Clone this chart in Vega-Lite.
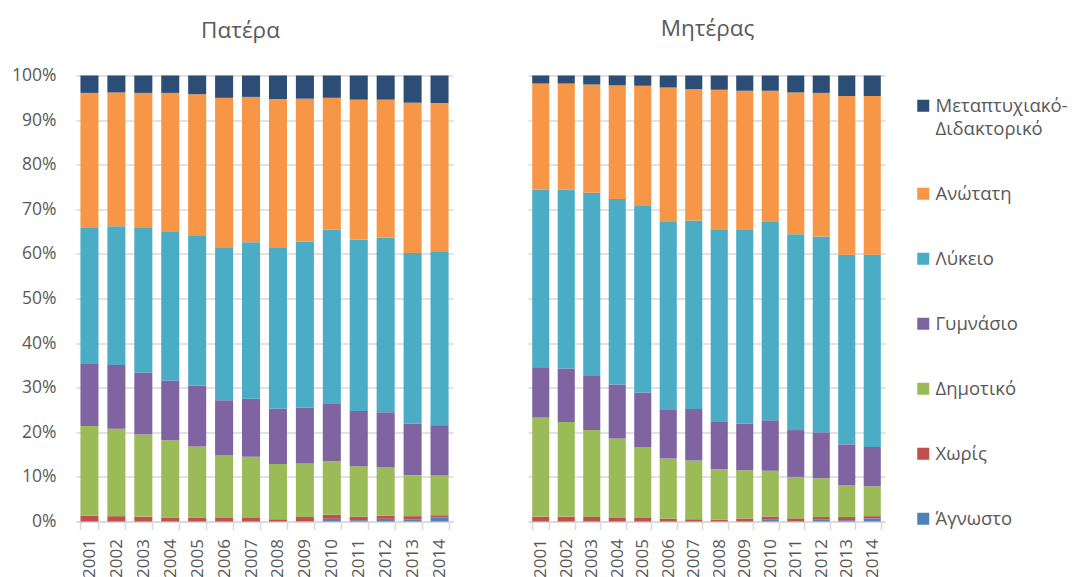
{
  "$schema": "https://vega.github.io/schema/vega-lite/v6.json",
  "padding": {"left": 11, "top": 17.5, "right": 5, "bottom": 0},
  "background": "white",
  "config": {
    "font": "Open Sans",
    "view": {"stroke": null},
    "axis": {"labelColor": "#595959", "labelFont": "Open Sans", "titleColor": "#595959"},
    "title": {"font": "Open Sans", "fontSize": 22.5, "fontWeight": "normal", "color": "#595959"}
  },
  "datasets": {
    "edu": [
      {"parent":"Πατέρα","year":"2001","level":"Χωρίς","value":1.3},{"parent":"Πατέρα","year":"2001","level":"Δημοτικό","value":20.1},{"parent":"Πατέρα","year":"2001","level":"Γυμνάσιο","value":13.9},{"parent":"Πατέρα","year":"2001","level":"Λύκειο","value":30.5},{"parent":"Πατέρα","year":"2001","level":"Ανώτατη","value":30.3},{"parent":"Πατέρα","year":"2001","level":"Μεταπτυχιακό-Διδακτορικό","value":3.9},
      {"parent":"Πατέρα","year":"2002","level":"Χωρίς","value":1.2},{"parent":"Πατέρα","year":"2002","level":"Δημοτικό","value":19.6},{"parent":"Πατέρα","year":"2002","level":"Γυμνάσιο","value":14.3},{"parent":"Πατέρα","year":"2002","level":"Λύκειο","value":31.1},{"parent":"Πατέρα","year":"2002","level":"Ανώτατη","value":30.0},{"parent":"Πατέρα","year":"2002","level":"Μεταπτυχιακό-Διδακτορικό","value":3.8},
      {"parent":"Πατέρα","year":"2003","level":"Χωρίς","value":1.1},{"parent":"Πατέρα","year":"2003","level":"Δημοτικό","value":18.4},{"parent":"Πατέρα","year":"2003","level":"Γυμνάσιο","value":13.9},{"parent":"Πατέρα","year":"2003","level":"Λύκειο","value":32.4},{"parent":"Πατέρα","year":"2003","level":"Ανώτατη","value":30.3},{"parent":"Πατέρα","year":"2003","level":"Μεταπτυχιακό-Διδακτορικό","value":3.9},
      {"parent":"Πατέρα","year":"2004","level":"Χωρίς","value":0.9},{"parent":"Πατέρα","year":"2004","level":"Δημοτικό","value":17.3},{"parent":"Πατέρα","year":"2004","level":"Γυμνάσιο","value":13.4},{"parent":"Πατέρα","year":"2004","level":"Λύκειο","value":33.5},{"parent":"Πατέρα","year":"2004","level":"Ανώτατη","value":31.0},{"parent":"Πατέρα","year":"2004","level":"Μεταπτυχιακό-Διδακτορικό","value":3.9},
      {"parent":"Πατέρα","year":"2005","level":"Χωρίς","value":0.9},{"parent":"Πατέρα","year":"2005","level":"Δημοτικό","value":15.9},{"parent":"Πατέρα","year":"2005","level":"Γυμνάσιο","value":13.7},{"parent":"Πατέρα","year":"2005","level":"Λύκειο","value":33.5},{"parent":"Πατέρα","year":"2005","level":"Ανώτατη","value":31.8},{"parent":"Πατέρα","year":"2005","level":"Μεταπτυχιακό-Διδακτορικό","value":4.2},
      {"parent":"Πατέρα","year":"2006","level":"Χωρίς","value":0.8},{"parent":"Πατέρα","year":"2006","level":"Δημοτικό","value":14.1},{"parent":"Πατέρα","year":"2006","level":"Γυμνάσιο","value":12.3},{"parent":"Πατέρα","year":"2006","level":"Λύκειο","value":34.1},{"parent":"Πατέρα","year":"2006","level":"Ανώτατη","value":33.7},{"parent":"Πατέρα","year":"2006","level":"Μεταπτυχιακό-Διδακτορικό","value":5.0},
      {"parent":"Πατέρα","year":"2007","level":"Χωρίς","value":0.8},{"parent":"Πατέρα","year":"2007","level":"Δημοτικό","value":13.7},{"parent":"Πατέρα","year":"2007","level":"Γυμνάσιο","value":13.0},{"parent":"Πατέρα","year":"2007","level":"Λύκειο","value":35.1},{"parent":"Πατέρα","year":"2007","level":"Ανώτατη","value":32.6},{"parent":"Πατέρα","year":"2007","level":"Μεταπτυχιακό-Διδακτορικό","value":4.8},
      {"parent":"Πατέρα","year":"2008","level":"Χωρίς","value":0.5},{"parent":"Πατέρα","year":"2008","level":"Δημοτικό","value":12.4},{"parent":"Πατέρα","year":"2008","level":"Γυμνάσιο","value":12.4},{"parent":"Πατέρα","year":"2008","level":"Λύκειο","value":36.0},{"parent":"Πατέρα","year":"2008","level":"Ανώτατη","value":33.4},{"parent":"Πατέρα","year":"2008","level":"Μεταπτυχιακό-Διδακτορικό","value":5.3},
      {"parent":"Πατέρα","year":"2009","level":"Άγνωστο","value":0.1},{"parent":"Πατέρα","year":"2009","level":"Χωρίς","value":0.9},{"parent":"Πατέρα","year":"2009","level":"Δημοτικό","value":12.0},{"parent":"Πατέρα","year":"2009","level":"Γυμνάσιο","value":12.5},{"parent":"Πατέρα","year":"2009","level":"Λύκειο","value":37.3},{"parent":"Πατέρα","year":"2009","level":"Ανώτατη","value":32.0},{"parent":"Πατέρα","year":"2009","level":"Μεταπτυχιακό-Διδακτορικό","value":5.2},
      {"parent":"Πατέρα","year":"2010","level":"Άγνωστο","value":0.6},{"parent":"Πατέρα","year":"2010","level":"Χωρίς","value":0.9},{"parent":"Πατέρα","year":"2010","level":"Δημοτικό","value":12.0},{"parent":"Πατέρα","year":"2010","level":"Γυμνάσιο","value":13.0},{"parent":"Πατέρα","year":"2010","level":"Λύκειο","value":38.9},{"parent":"Πατέρα","year":"2010","level":"Ανώτατη","value":29.6},{"parent":"Πατέρα","year":"2010","level":"Μεταπτυχιακό-Διδακτορικό","value":5.0},
      {"parent":"Πατέρα","year":"2011","level":"Άγνωστο","value":0.3},{"parent":"Πατέρα","year":"2011","level":"Χωρίς","value":0.8},{"parent":"Πατέρα","year":"2011","level":"Δημοτικό","value":11.3},{"parent":"Πατέρα","year":"2011","level":"Γυμνάσιο","value":12.4},{"parent":"Πατέρα","year":"2011","level":"Λύκειο","value":38.4},{"parent":"Πατέρα","year":"2011","level":"Ανώτατη","value":31.4},{"parent":"Πατέρα","year":"2011","level":"Μεταπτυχιακό-Διδακτορικό","value":5.4},
      {"parent":"Πατέρα","year":"2012","level":"Άγνωστο","value":0.6},{"parent":"Πατέρα","year":"2012","level":"Χωρίς","value":0.7},{"parent":"Πατέρα","year":"2012","level":"Δημοτικό","value":10.8},{"parent":"Πατέρα","year":"2012","level":"Γυμνάσιο","value":12.4},{"parent":"Πατέρα","year":"2012","level":"Λύκειο","value":39.2},{"parent":"Πατέρα","year":"2012","level":"Ανώτατη","value":30.9},{"parent":"Πατέρα","year":"2012","level":"Μεταπτυχιακό-Διδακτορικό","value":5.4},
      {"parent":"Πατέρα","year":"2013","level":"Άγνωστο","value":0.5},{"parent":"Πατέρα","year":"2013","level":"Χωρίς","value":0.7},{"parent":"Πατέρα","year":"2013","level":"Δημοτικό","value":9.2},{"parent":"Πατέρα","year":"2013","level":"Γυμνάσιο","value":11.5},{"parent":"Πατέρα","year":"2013","level":"Λύκειο","value":38.3},{"parent":"Πατέρα","year":"2013","level":"Ανώτατη","value":33.7},{"parent":"Πατέρα","year":"2013","level":"Μεταπτυχιακό-Διδακτορικό","value":6.1},
      {"parent":"Πατέρα","year":"2014","level":"Άγνωστο","value":0.9},{"parent":"Πατέρα","year":"2014","level":"Χωρίς","value":0.5},{"parent":"Πατέρα","year":"2014","level":"Δημοτικό","value":8.9},{"parent":"Πατέρα","year":"2014","level":"Γυμνάσιο","value":11.3},{"parent":"Πατέρα","year":"2014","level":"Λύκειο","value":38.8},{"parent":"Πατέρα","year":"2014","level":"Ανώτατη","value":33.4},{"parent":"Πατέρα","year":"2014","level":"Μεταπτυχιακό-Διδακτορικό","value":6.2},
      {"parent":"Μητέρας","year":"2001","level":"Χωρίς","value":1.1},{"parent":"Μητέρας","year":"2001","level":"Δημοτικό","value":22.2},{"parent":"Μητέρας","year":"2001","level":"Γυμνάσιο","value":11.3},{"parent":"Μητέρας","year":"2001","level":"Λύκειο","value":39.8},{"parent":"Μητέρας","year":"2001","level":"Ανώτατη","value":23.8},{"parent":"Μητέρας","year":"2001","level":"Μεταπτυχιακό-Διδακτορικό","value":1.8},
      {"parent":"Μητέρας","year":"2002","level":"Χωρίς","value":1.1},{"parent":"Μητέρας","year":"2002","level":"Δημοτικό","value":21.2},{"parent":"Μητέρας","year":"2002","level":"Γυμνάσιο","value":12.0},{"parent":"Μητέρας","year":"2002","level":"Λύκειο","value":40.1},{"parent":"Μητέρας","year":"2002","level":"Ανώτατη","value":23.8},{"parent":"Μητέρας","year":"2002","level":"Μεταπτυχιακό-Διδακτορικό","value":1.8},
      {"parent":"Μητέρας","year":"2003","level":"Χωρίς","value":1.0},{"parent":"Μητέρας","year":"2003","level":"Δημοτικό","value":19.5},{"parent":"Μητέρας","year":"2003","level":"Γυμνάσιο","value":12.1},{"parent":"Μητέρας","year":"2003","level":"Λύκειο","value":41.1},{"parent":"Μητέρας","year":"2003","level":"Ανώτατη","value":24.3},{"parent":"Μητέρας","year":"2003","level":"Μεταπτυχιακό-Διδακτορικό","value":2.0},
      {"parent":"Μητέρας","year":"2004","level":"Χωρίς","value":0.8},{"parent":"Μητέρας","year":"2004","level":"Δημοτικό","value":17.8},{"parent":"Μητέρας","year":"2004","level":"Γυμνάσιο","value":12.1},{"parent":"Μητέρας","year":"2004","level":"Λύκειο","value":41.6},{"parent":"Μητέρας","year":"2004","level":"Ανώτατη","value":25.5},{"parent":"Μητέρας","year":"2004","level":"Μεταπτυχιακό-Διδακτορικό","value":2.2},
      {"parent":"Μητέρας","year":"2005","level":"Χωρίς","value":0.8},{"parent":"Μητέρας","year":"2005","level":"Δημοτικό","value":15.9},{"parent":"Μητέρας","year":"2005","level":"Γυμνάσιο","value":12.2},{"parent":"Μητέρας","year":"2005","level":"Λύκειο","value":42.0},{"parent":"Μητέρας","year":"2005","level":"Ανώτατη","value":26.8},{"parent":"Μητέρας","year":"2005","level":"Μεταπτυχιακό-Διδακτορικό","value":2.3},
      {"parent":"Μητέρας","year":"2006","level":"Χωρίς","value":0.6},{"parent":"Μητέρας","year":"2006","level":"Δημοτικό","value":13.5},{"parent":"Μητέρας","year":"2006","level":"Γυμνάσιο","value":10.9},{"parent":"Μητέρας","year":"2006","level":"Λύκειο","value":42.3},{"parent":"Μητέρας","year":"2006","level":"Ανώτατη","value":30.0},{"parent":"Μητέρας","year":"2006","level":"Μεταπτυχιακό-Διδακτορικό","value":2.7},
      {"parent":"Μητέρας","year":"2007","level":"Χωρίς","value":0.5},{"parent":"Μητέρας","year":"2007","level":"Δημοτικό","value":13.2},{"parent":"Μητέρας","year":"2007","level":"Γυμνάσιο","value":11.5},{"parent":"Μητέρας","year":"2007","level":"Λύκειο","value":42.3},{"parent":"Μητέρας","year":"2007","level":"Ανώτατη","value":29.5},{"parent":"Μητέρας","year":"2007","level":"Μεταπτυχιακό-Διδακτορικό","value":3.0},
      {"parent":"Μητέρας","year":"2008","level":"Χωρίς","value":0.4},{"parent":"Μητέρας","year":"2008","level":"Δημοτικό","value":11.3},{"parent":"Μητέρας","year":"2008","level":"Γυμνάσιο","value":10.8},{"parent":"Μητέρας","year":"2008","level":"Λύκειο","value":43.0},{"parent":"Μητέρας","year":"2008","level":"Ανώτατη","value":31.3},{"parent":"Μητέρας","year":"2008","level":"Μεταπτυχιακό-Διδακτορικό","value":3.2},
      {"parent":"Μητέρας","year":"2009","level":"Άγνωστο","value":0.1},{"parent":"Μητέρας","year":"2009","level":"Χωρίς","value":0.6},{"parent":"Μητέρας","year":"2009","level":"Δημοτικό","value":10.8},{"parent":"Μητέρας","year":"2009","level":"Γυμνάσιο","value":10.5},{"parent":"Μητέρας","year":"2009","level":"Λύκειο","value":43.5},{"parent":"Μητέρας","year":"2009","level":"Ανώτατη","value":31.1},{"parent":"Μητέρας","year":"2009","level":"Μεταπτυχιακό-Διδακτορικό","value":3.4},
      {"parent":"Μητέρας","year":"2010","level":"Άγνωστο","value":0.4},{"parent":"Μητέρας","year":"2010","level":"Χωρίς","value":0.7},{"parent":"Μητέρας","year":"2010","level":"Δημοτικό","value":10.3},{"parent":"Μητέρας","year":"2010","level":"Γυμνάσιο","value":11.3},{"parent":"Μητέρας","year":"2010","level":"Λύκειο","value":44.6},{"parent":"Μητέρας","year":"2010","level":"Ανώτατη","value":29.3},{"parent":"Μητέρας","year":"2010","level":"Μεταπτυχιακό-Διδακτορικό","value":3.4},
      {"parent":"Μητέρας","year":"2011","level":"Άγνωστο","value":0.1},{"parent":"Μητέρας","year":"2011","level":"Χωρίς","value":0.6},{"parent":"Μητέρας","year":"2011","level":"Δημοτικό","value":9.3},{"parent":"Μητέρας","year":"2011","level":"Γυμνάσιο","value":10.5},{"parent":"Μητέρας","year":"2011","level":"Λύκειο","value":43.9},{"parent":"Μητέρας","year":"2011","level":"Ανώτατη","value":31.8},{"parent":"Μητέρας","year":"2011","level":"Μεταπτυχιακό-Διδακτορικό","value":3.8},
      {"parent":"Μητέρας","year":"2012","level":"Άγνωστο","value":0.4},{"parent":"Μητέρας","year":"2012","level":"Χωρίς","value":0.6},{"parent":"Μητέρας","year":"2012","level":"Δημοτικό","value":8.7},{"parent":"Μητέρας","year":"2012","level":"Γυμνάσιο","value":10.3},{"parent":"Μητέρας","year":"2012","level":"Λύκειο","value":43.9},{"parent":"Μητέρας","year":"2012","level":"Ανώτατη","value":32.2},{"parent":"Μητέρας","year":"2012","level":"Μεταπτυχιακό-Διδακτορικό","value":3.9},
      {"parent":"Μητέρας","year":"2013","level":"Άγνωστο","value":0.3},{"parent":"Μητέρας","year":"2013","level":"Χωρίς","value":0.7},{"parent":"Μητέρας","year":"2013","level":"Δημοτικό","value":7.1},{"parent":"Μητέρας","year":"2013","level":"Γυμνάσιο","value":9.2},{"parent":"Μητέρας","year":"2013","level":"Λύκειο","value":42.5},{"parent":"Μητέρας","year":"2013","level":"Ανώτατη","value":35.6},{"parent":"Μητέρας","year":"2013","level":"Μεταπτυχιακό-Διδακτορικό","value":4.6},
      {"parent":"Μητέρας","year":"2014","level":"Άγνωστο","value":0.7},{"parent":"Μητέρας","year":"2014","level":"Χωρίς","value":0.5},{"parent":"Μητέρας","year":"2014","level":"Δημοτικό","value":6.7},{"parent":"Μητέρας","year":"2014","level":"Γυμνάσιο","value":8.8},{"parent":"Μητέρας","year":"2014","level":"Λύκειο","value":43.1},{"parent":"Μητέρας","year":"2014","level":"Ανώτατη","value":35.6},{"parent":"Μητέρας","year":"2014","level":"Μεταπτυχιακό-Διδακτορικό","value":4.6}
    ]
  },
  "data": {"name": "edu"},
  "spacing": 66,
  "hconcat": [
    {
      "width": 377,
      "height": 446,
      "title": {"text": "Πατέρα", "frame": "group", "anchor": "middle", "baseline": "alphabetic", "offset": 6, "dx": -24},
      "transform": [
        {"filter": "datum.parent == 'Πατέρα'"},
        {"calculate": "6 - indexof(['Μεταπτυχιακό-Διδακτορικό','Ανώτατη','Λύκειο','Γυμνάσιο','Δημοτικό','Χωρίς','Άγνωστο'], datum.level)", "as": "stackOrder"}
      ],
      "mark": {"type": "bar"},
      "encoding": {
        "x": {
          "field": "year", "type": "ordinal",
          "scale": {"paddingInner": 0.33, "paddingOuter": 0.165},
          "axis": {"title": null, "labelAngle": -90, "labelFontSize": 17, "labelPadding": 9, "tickBand": "extent", "tickSize": 8, "tickColor": "#D9D9D9", "domainColor": "#D9D9D9", "domainWidth": 1.5, "tickWidth": 1.5}
        },
        "y": {
          "field": "value", "type": "quantitative", "stack": "normalize",
          "scale": {"domain": [0, 1]},
          "axis": {"title": null, "format": ".0%", "values": [0, 0.1, 0.2, 0.3, 0.4, 0.5, 0.6, 0.7, 0.8, 0.9, 1], "labelFontSize": 17.5, "labelPadding": 20, "ticks": false, "domain": false, "gridColor": "#D9D9D9", "gridWidth": 1.5}
        },
        "color": {
          "field": "level", "type": "nominal",
          "scale": {
            "domain": ["Μεταπτυχιακό-Διδακτορικό", "Ανώτατη", "Λύκειο", "Γυμνάσιο", "Δημοτικό", "Χωρίς", "Άγνωστο"],
            "range": ["#2C4D75", "#F79646", "#4BACC6", "#8064A2", "#9BBB59", "#C0504D", "#4F81BD"]
          },
          "legend": {
            "title": null, "orient": "right", "offset": 8, "padding": 21,
            "symbolType": "square", "symbolSize": 144, "symbolStrokeWidth": 0,
            "labelFontSize": 18.5, "labelColor": "#595959", "labelFont": "Open Sans",
            "rowPadding": 46, "labelOffset": 3, "labelLimit": 220,
            "labelExpr": "datum.label == 'Μεταπτυχιακό-Διδακτορικό' ? ['Μεταπτυχιακό-', 'Διδακτορικό'] : datum.label",
            "encode": {"labels": {"update": {"lineHeight": {"value": 23}}}}
          }
        },
        "order": {"field": "stackOrder", "type": "quantitative"}
      }
    },
    {
      "width": 357,
      "height": 446,
      "title": {"text": "Μητέρας", "frame": "group", "anchor": "middle", "baseline": "alphabetic", "offset": 17, "dx": 1},
      "transform": [
        {"filter": "datum.parent == 'Μητέρας'"},
        {"calculate": "6 - indexof(['Μεταπτυχιακό-Διδακτορικό','Ανώτατη','Λύκειο','Γυμνάσιο','Δημοτικό','Χωρίς','Άγνωστο'], datum.level)", "as": "stackOrder"}
      ],
      "mark": {"type": "bar"},
      "encoding": {
        "x": {
          "field": "year", "type": "ordinal",
          "scale": {"paddingInner": 0.33, "paddingOuter": 0.165},
          "axis": {"title": null, "labelAngle": -90, "labelFontSize": 17, "labelPadding": 9, "tickBand": "extent", "tickSize": 8, "tickColor": "#D9D9D9", "domainColor": "#D9D9D9", "domainWidth": 1.5, "tickWidth": 1.5}
        },
        "y": {
          "field": "value", "type": "quantitative", "stack": "normalize",
          "scale": {"domain": [0, 1]},
          "axis": {"title": null, "labels": false, "values": [0, 0.1, 0.2, 0.3, 0.4, 0.5, 0.6, 0.7, 0.8, 0.9, 1], "ticks": false, "domain": false, "gridColor": "#D9D9D9", "gridWidth": 1.5}
        },
        "color": {
          "field": "level", "type": "nominal",
          "scale": {
            "domain": ["Μεταπτυχιακό-Διδακτορικό", "Ανώτατη", "Λύκειο", "Γυμνάσιο", "Δημοτικό", "Χωρίς", "Άγνωστο"],
            "range": ["#2C4D75", "#F79646", "#4BACC6", "#8064A2", "#9BBB59", "#C0504D", "#4F81BD"]
          }
        },
        "order": {"field": "stackOrder", "type": "quantitative"}
      }
    }
  ]
}
